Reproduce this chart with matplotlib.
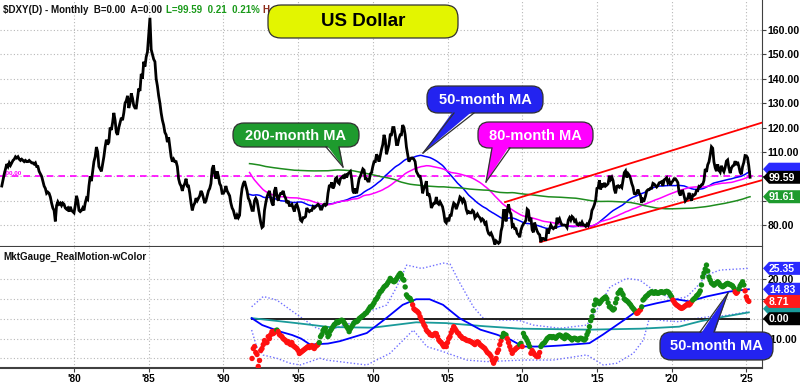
import numpy as np
import pandas as pd
import matplotlib
matplotlib.use("Agg")
import matplotlib.pyplot as plt
from matplotlib.patches import FancyBboxPatch, Polygon
from matplotlib.lines import Line2D
from matplotlib.transforms import Affine2D

plt.rcParams['font.family'] = ['Liberation Sans', 'DejaVu Sans']

# ---------------- DATA ----------------
# $DXY monthly closes, March 1975 .. April 2025
dxy_start = 1975 + 2 / 12
dxy_values = [
    96, 98.5, 101, 103, 105, 104, 105.5, 104.5, 105.5, 106.5,                       # 1975 (Mar-Dec)
    107, 108, 107.5, 108, 107, 106.5, 107, 106.5, 106, 106.5, 106, 106,           # 1976
    106.5, 106, 105.5, 105.5, 105, 105.5, 104, 104, 102, 101, 100, 98,            # 1977
    96, 95, 93, 93.5, 93, 91.5, 89, 87, 86, 81.5, 88, 89.5,                       # 1978
    88.5, 89, 88, 89, 88.5, 87, 86.5, 87, 85.5, 87.5, 86, 85.5,                   # 1979
    85, 88, 92, 90, 86, 85.5, 86, 87, 86, 89, 91, 90.5,                           # 1980
    96, 100, 98, 102, 106, 108, 112, 110, 104, 103, 102, 105,                     # 1981
    108, 112, 115, 113, 114, 120, 119, 122, 126, 123, 118, 117,                   # 1982
    120, 122, 124, 123, 126, 130, 131, 133, 128, 130, 134, 132,                   # 1983
    129, 128, 128, 132, 136, 135, 142, 140, 147, 145, 149, 151,                   # 1984
    158, 165, 152, 150, 148, 147, 140, 137, 133, 130, 126, 123,                   # 1985
    121, 118, 117, 114, 116, 112, 108, 106, 107, 106, 106, 104,                   # 1986
    99, 97, 96, 94, 96, 97, 99, 96, 96, 93, 89, 86,                               # 1987
    88, 89, 91, 90, 91, 92, 94, 93, 91, 89, 90, 92,                               # 1988
    94, 95, 97, 103, 104.5, 101, 99, 102, 100, 97, 96, 93,                        # 1989
    93, 94, 96, 94, 93, 92, 89, 87, 86, 84, 82.5, 84,                             # 1990
    83, 84, 91, 95, 97, 98, 96, 94, 91, 90, 88, 86,                               # 1991
    86, 90, 91, 90, 87, 84, 81, 79, 79.5, 86, 89, 91.5,                           # 1992
    93, 94, 91, 89, 88, 94, 95.5, 92, 90, 92, 93, 93,                             # 1993
    94, 92, 91, 89, 90, 88, 88, 88.5, 87, 85.5, 88, 88.5,                         # 1994
    87, 85, 82, 81.5, 83, 83, 83.5, 87, 86, 85.5, 86, 86,                         # 1995
    87.5, 87, 87.5, 88, 88.5, 88, 86.5, 86.5, 88, 88.5, 88, 88.5,                 # 1996
    93, 96, 96, 97.5, 95, 96, 99, 99.5, 97.5, 97, 99, 99.5,                       # 1997
    100, 99, 101, 99.5, 101, 101.5, 102, 99, 94, 93, 95, 93,                      # 1998
    96, 99, 100, 101.5, 103, 102.5, 99, 99, 98, 98, 101, 101.5,                   # 1999
    104, 106, 106, 109, 108, 106, 108.5, 111, 113, 117, 115, 109,                 # 2000
    111, 113, 117, 117, 120, 120, 117, 113, 113, 115.5, 117, 117,                 # 2001
    121, 120, 117, 112, 109, 106, 107, 107.5, 107.5, 107, 106, 102,               # 2002
    101, 100, 100, 97.5, 93, 95, 96, 98, 92, 93, 91, 87,                          # 2003
    88, 89, 89, 91.5, 89, 88.5, 89.5, 88.5, 87.5, 85, 81.5, 80.9,                 # 2004
    83, 81.5, 84, 84, 87, 89, 88.5, 86.5, 88, 89.5, 91.5, 91,                     # 2005
    89.5, 90.5, 89.5, 86.5, 85, 85.5, 85, 85, 86, 85.5, 83, 83.7,                 # 2006
    84.5, 83.5, 83, 81.8, 82.5, 82, 80.5, 81, 78, 76.5, 76, 76.7,                 # 2007
    75.5, 74, 72, 73.5, 73, 72.5, 73, 77.5, 79.5, 86, 86, 81.5,                   # 2008
    86, 88.5, 85.5, 84.5, 79.5, 80, 78.5, 78.5, 76.5, 76, 75, 78,                 # 2009
    79.5, 80.5, 81, 82, 86.5, 86, 81.5, 83, 78, 77, 81, 79,                       # 2010
    77.5, 76.5, 76, 73, 74.5, 74.5, 74, 74, 78.5, 76.5, 78.5, 80,                 # 2011
    79, 78.5, 79, 79, 83, 81.5, 82.5, 81, 80, 80, 80, 79.8,                       # 2012
    79, 82, 83, 82, 83.5, 83, 81.5, 82, 80.3, 80, 80.7, 80.2,                     # 2013
    81.2, 80, 80, 79.5, 80.4, 79.8, 81.5, 82.7, 86, 87, 88.4, 90.3,               # 2014
    95, 95.3, 98.4, 94.6, 97, 95.5, 97.3, 96, 96.4, 97, 100.2, 98.7,              # 2015
    99.6, 98.2, 94.6, 93, 95.9, 96.1, 95.5, 96, 95.4, 98.5, 101.5, 102.2,         # 2016
    99.5, 101.1, 100.4, 99.1, 97, 95.6, 92.9, 92.7, 93.1, 94.6, 93, 92.1,         # 2017
    89.1, 90.6, 90.2, 91.8, 94, 94.5, 94.5, 95.1, 95.1, 97.1, 96.8, 96.2,         # 2018
    95.6, 96.2, 97.3, 97.5, 97.8, 96.1, 98.5, 98.9, 99.4, 97.4, 98.3, 96.4,       # 2019
    97.4, 98.1, 99, 99, 98.3, 97.4, 93.3, 92.1, 93.9, 94, 91.9, 89.9,             # 2020
    90.6, 90.9, 93.2, 91.3, 90, 92.4, 92.2, 92.6, 94.2, 94.1, 95.9, 95.7,         # 2021
    96.5, 96.7, 98.3, 103, 101.8, 104.7, 105.9, 108.7, 112.1, 111.5, 105.9, 103.5,  # 2022
    102.1, 104.9, 102.5, 101.7, 104.3, 102.9, 101.9, 103.6, 106.2, 106.7, 103.5, 101.3,  # 2023
    103.3, 104.2, 104.5, 106.2, 104.6, 105.9, 104.1, 101.7, 100.8, 104, 105.7, 108.5,  # 2024
    108.4, 107.6, 104.2, 99.59,                                                   # 2025
]
ma_windows = [50, 80, 200]
ma_names = ["50-month MA", "80-month MA", "200-month MA"]

# regression channel end points (year, value)
chan_upper_t = [2008.85, 2026.05]
chan_upper_v = [89.4, 122.0]
chan_lower_t = [2011.2, 2026.05]
chan_lower_v = [73.0, 98.4]

price_flags = [("99.59", 99.59), ("91.61", 91.61)]

# RealMotion monthly dots Dec 1991 .. Mar 2025
rm_start = 1991 + 11 / 12
rm_values = [
    -20, -15, -14, -17, -18, -24, -21, -16, -15, -13, -11, -12,
    -12, -9, -10, -8, -6.5, -7.5, -7, -6, -5.7, -6.5, -8, -8.5,
    -9, -10, -10.5, -11, -12, -11.5, -12.5, -13, -12, -13.5, -14, -14.5,
    -15, -16, -17.5, -17, -16.5, -16, -15.5, -15, -14.5, -14, -14.5, -14,
    -13.5, -14.5, -15, -14, -13.5, -13, -12, -9, -8, -6, -5, -4.8,
    -7, -9, -8, -6, -5, -4, -3, -2.5, -1.5, -2, -1.5, -1,
    -0.7, -1, -2, -3, -4, -5, -6.5, -5, -4, -3, -2, -1.5,
    -1.5, -1, 0, 0.5, 1, 1.5, 2, 2.7, 3, 4, 5, 6,
    6, 7, 8, 9.4, 10, 11, 12.5, 13.6, 14, 15, 16, 16.5,
    17, 18, 19, 20.3, 19.5, 19, 18.6, 19, 20, 21, 22, 22.8,
    22, 20, 19.4, 16, 12, 11, 10.5, 10.2, 9, 7, 5, 4.4,
    4, 3.5, 2.7, 1, -0.5, -1.5, -3, -4, -5.7, -6.5, -7, -8,
    -8.2, -8.5, -8, -7.4, -7.5, -9, -10.7, -11.5, -12, -13, -14, -13,
    -14, -12, -10, -9, -7, -5.5, -4, -5, -6, -7, -7.4, -8.5,
    -9, -9.8, -10, -10.2, -10.7, -11, -11, -11.3, -11.6, -12, -12.5, -13,
    -12, -11.6, -12, -13, -13.5, -14, -14.5, -15, -16, -17, -17.4, -18,
    -19, -21, -22.4, -21, -20, -17, -15.7, -13, -11, -9, -7.4, -8,
    -8.2, -10, -12, -14, -15.7, -17.4, -16, -15.7, -15, -14.5, -14, -13,
    -12.4, -14, -7.4, -9, -9.8, -11, -12.4, -14, -17.4, -16, -17, -18,
    -18.5, -19.1, -19, -17, -14, -13, -12.4, -12, -11, -10, -9.5, -9,
    -9, -9.5, -9, -9.5, -9.8, -9, -8.5, -8.2, -8.5, -9, -9.5, -10,
    -8.2, -8.5, -9, -9.5, -10, -10.7, -10, -9.8, -10, -10.5, -10.7, -10,
    -9.8, -10, -10.5, -10.7, -10, -8, -6.5, -4, -1, 1, 4, 7,
    9.4, 9, 8, 7.7, 8.5, 9.4, 10, 10.5, 11, 10, 8, 6,
    6, 5, 4.4, 5, 8, 10, 12.8, 13.5, 14.4, 13, 12, 10,
    9.4, 9, 8.5, 7.7, 7, 6, 5.2, 4.5, 3.5, 2.7, 3, 4,
    4.5, 6, 9.4, 10, 11, 11.5, 12, 12.8, 13, 13.6, 13, 12.8,
    13.6, 13, 12.8, 13, 13.5, 13.6, 13.2, 13, 13.6, 13.8, 13.6, 13,
    12, 11, 9.4, 8.5, 7.5, 6.9, 6.5, 6, 5.5, 5.2, 5.5, 6,
    6.5, 6.9, 7.5, 6.9, 7.5, 8.5, 9.4, 10, 10.5, 11.5, 12, 12.8,
    14, 17, 21.1, 23, 25, 27, 24, 21, 19.4, 18, 17.5, 16.9,
    17.5, 18, 18.6, 18, 17, 16.5, 16.1, 16.5, 17, 17.5, 17.8, 17.5,
    17.2, 16.9, 16.5, 15.5, 13.5, 12.8, 13.5, 15, 16.5, 17.5, 18.6, 17,
    14, 11, 9.4, 8.71,
]

# 50-month MA of RealMotion
rm_ma_t = [1991.89, 1992.6, 1993.8, 1994.6, 1995.2, 1995.8, 1997.0, 1997.8, 1999.6, 2000.9,
           2002.0, 2002.9, 2003.8, 2004.7, 2005.8, 2007.2, 2008.3, 2009.2, 2010.05, 2011.4,
           2012.5, 2014.5, 2015.4, 2017.0, 2018.1, 2019.0, 2020.3, 2021.2, 2022.35, 2023.9, 2025.17]
rm_ma_v = [0.3, -3.2, -6.5, -8.2, -10, -13, -12.5, -11.3, -7.2, 0.3,
           7, 9.8, 9.8, 7, 0.3, -5.5, -8, -10.5, -14, -14,
           -13.5, -12.3, -8, 0.3, 6.2, 7.8, 9.8, 8.7, 11.2, 13.7, 14.83]

# long-term average (teal)
rm_teal_t = [1991.89, 1995.0, 1997.1, 2000.0, 2002.9, 2004.9, 2007.5, 2009.85, 2014.5, 2018.0,
             2020.5, 2021.9, 2023.5, 2025.17]
rm_teal_v = [0.3, -2.3, -4.2, -4.5, -1.8, -2.2, -3.8, -5, -5.5, -5, -4, -1.3, 1, 3.2]

# upper / lower bands (dotted)
ub_t = [1991.89, 1992.67, 1993.57, 1995.13, 1996.24, 1997.13, 1998.47, 2000.01, 2000.93, 2001.6,
        2002.27, 2003.27, 2004.72, 2005.17, 2005.84, 2006.73, 2007.4, 2008.51, 2009.4, 2009.85,
        2010.74, 2012.53, 2014.32, 2014.99, 2015.88, 2016.99, 2017.88, 2018.78, 2020.11, 2021.01,
        2021.68, 2022.35, 2023.24, 2025.17]
ub_v = [6, 11.2, 9.4, 1, -4.8, -5.7, -2.3, 4.4, 6.9, 16,
        27, 25.3, 28, 27.5, 17.8, 6, 0.2, -0.7, -0.7, -1,
        -3.2, -4.8, -3.2, 4.4, 16, 20.3, 19.4, 14.4, 9.7, 11,
        16, 22, 24.5, 25.35]
lb_t = [1991.89, 1992.22, 1992.67, 1993.57, 1994.46, 1995.13, 1996.46, 1996.9, 1999.59, 2001.15,
        2002.71, 2003.61, 2004.72, 2006.28, 2007.62, 2010.07, 2012.08, 2014.32, 2015.43, 2016.33,
        2017.44, 2018.11, 2018.5, 2019.5, 2020.5, 2021.5, 2022.5, 2023.5, 2025.17]
lb_v = [-5.7, -14, -18.3, -19.9, -22.4, -23.3, -19.9, -20.8, -23.3, -17.4,
        -5.7, -14, -16.6, -20.8, -21.6, -20.8, -20.8, -18.2, -23.3, -22.4,
        -17.4, -10.7, 0, -1, -1.5, 0, 1, 1.5, 3.5]

osc_flags = [("25.35", 25.35, "#2a2aff"), ("14.83", 14.83, "#2a2aff"),
             ("", 5.0, "#1a9a9a"), ("8.71", 8.71, "#ff1a1a"), ("0.00", 0.0, "#000000")]

xtick_years = [1980, 1985, 1990, 1995, 2000, 2005, 2010, 2015, 2020, 2025]
xtick_labels = ["'80", "'85", "'90", "'95", "'00", "'05", "'10", "'15", "'20", "'25"]

# ---------------- FIGURE ----------------
W, H = 800, 387
fig = plt.figure(figsize=(W / 100, H / 100), dpi=100)
PX = Affine2D().scale(1, -1).translate(0, H)   # pixel coords, y downwards

XMIN, XMAX = 1975.047, 2026.05
ax1 = fig.add_axes([0, 1 - 246 / H, 762 / W, 246 / H])
ax2 = fig.add_axes([0, 1 - 368 / H, 762 / W, (368 - 247) / H])

grid_kw = dict(color="#b8b8b8", linestyle=(0, (1, 2)), linewidth=0.8)
for ax in (ax1, ax2):
    ax.set_xlim(XMIN, XMAX)
    ax.set_xticks(xtick_years)
    ax.yaxis.tick_right()
    ax.grid(True, **grid_kw)
    ax.set_axisbelow(True)
    for s_ in ("left", "top"):
        ax.spines[s_].set_visible(False)
    ax.spines["right"].set_color("#404040")
    ax.spines["bottom"].set_color("#404040")
    ax.tick_params(axis="y", length=3, width=0.8, pad=1, colors="#404040",
                   labelcolor="black", labelsize=7.6)

# ---- price panel
t = dxy_start + np.arange(len(dxy_values)) / 12
s = pd.Series(dxy_values, index=t)
ax1.set_ylim(71.4, 172.3)
yt1 = np.arange(80, 161, 10)
ax1.set_yticks(yt1)
ax1.set_yticklabels(["" if v in (90, 100) else f"{v:.2f}" for v in yt1], fontweight="bold")
ax1.tick_params(axis="x", length=0, labelbottom=False)

ax1.axhline(100, color="#ff00ff", linestyle=(0, (4, 3)), linewidth=1.2, zorder=2)
ax1.text(1975.25, 100.7, "100.00", color="#ff00ff", fontsize=4.5, fontweight="bold")

mas = [s.rolling(w).mean() for w in ma_windows]
valid = mas[2].notna().values
start_idx = np.argmax(valid)
ma_colors = ["#0000ff", "#ff00ff", "#1e8c1e"]
for m, c in zip(mas, ma_colors):
    ax1.plot(t[start_idx:], m.values[start_idx:], color=c, linewidth=1.1, zorder=3)

ax1.plot(chan_upper_t, chan_upper_v, color="#ff0000", linewidth=1.3, zorder=3)
ax1.plot(chan_lower_t, chan_lower_v, color="#ff0000", linewidth=1.3, zorder=3)
ax1.plot(t, dxy_values, color="black", linewidth=2.0, zorder=4, solid_joinstyle="miter")

# ---- oscillator panel
rt = rm_start + np.arange(len(rm_values)) / 12
ax2.set_ylim(-24.8, 36.1)
ax2.set_yticks([-20, -10, 0, 10, 20])
ax2.set_yticklabels(["", "-10.00", "", "", "20.00"], fontweight="bold")
ax2.set_xticklabels(xtick_labels, fontweight="bold", fontsize=7.2)
ax2.tick_params(axis="x", length=3, colors="#404040", labelcolor="black", pad=1.5)
ax2.spines["bottom"].set_linewidth(1.5)

ax2.plot(ub_t, ub_v, color="#7070ff", linestyle=(0, (1, 1.5)), linewidth=1.0, zorder=2)
ax2.plot(lb_t, lb_v, color="#7070ff", linestyle=(0, (1, 1.5)), linewidth=1.0, zorder=2)
ax2.plot([rt[0], rt[-1]], [0, 0], color="#202020", linewidth=1.4, zorder=2)
ax2.plot(rm_teal_t, rm_teal_v, color="#1a9a9a", linewidth=1.3, zorder=3)
ax2.plot(rm_ma_t, rm_ma_v, color="#0000ff", linewidth=1.3, zorder=4)
ma_at = np.interp(rt, rm_ma_t, rm_ma_v)
cols = np.where(np.array(rm_values) >= ma_at, "#128c12", "#ff1010")
ax2.scatter(rt, rm_values, s=15, c=cols, linewidths=0, zorder=5)

# ---------------- TEXT / ANNOTATIONS ----------------
fig.text(3 / W, 1 - 13 / H, "$DXY(D) - Monthly  B=0.00  A=0.00", fontsize=7, fontweight="bold",
         color="#111111")
fig.text(166 / W, 1 - 13 / H, "L=99.59  0.21  0.21%", fontsize=7, fontweight="bold",
         color="#1a9a1a")
fig.text(262 / W, 1 - 13 / H, "H", fontsize=7, fontweight="bold", color="#8b2a1a")
fig.text(3 / W, 1 - 260 / H, "MktGauge_RealMotion-wColor", fontsize=7.1, fontweight="bold",
         color="#111111")


def callout(x0, y0, x1, y1, text, fc, tc, fs, tail=None, r=11, z=10):
    box = FancyBboxPatch((x0, y0), x1 - x0, y1 - y0,
                         boxstyle=f"round,pad=0,rounding_size={r}",
                         transform=PX, facecolor=fc, edgecolor="#303030",
                         linewidth=0.9, zorder=z)
    fig.patches.append(box)
    if tail is not None:
        (bx0, by), (bx1, _), (tx, ty) = tail
        d = 3 * np.sign(ty - by)
        tri = Polygon([(bx0, by - d), (bx1, by - d), (tx, ty)],
                      closed=True, transform=PX, facecolor=fc, edgecolor="none", zorder=z + 0.1)
        fig.patches.append(tri)
        for bx in (bx0, bx1):
            fig.lines.append(Line2D([bx, tx], [by, ty], transform=PX, color="#303030",
                                    linewidth=0.9, zorder=z + 0.2))
    fig.text((x0 + x1) / 2 / W, 1 - ((y0 + y1) / 2 + 0.5) / H, text, ha="center", va="center",
             fontsize=fs, fontweight="bold", color=tc, zorder=z + 0.3)


callout(268, 5, 458, 38, "US Dollar", "#e3f500", "black", 13.5, r=13)
callout(233, 123, 359, 147, "200-month MA", "#1e9b2e", "white", 10.5,
        tail=((326, 147), (339, 147), (343, 167)))
callout(427, 86, 543, 113, "50-month MA", "#2323f0", "white", 10.5,
        tail=((454, 113), (474, 113), (423, 153)))
callout(478, 122, 593, 148, "80-month MA", "#ff00ff", "white", 10.5,
        tail=((492, 148), (510, 148), (486, 182)))
callout(660, 332, 773, 360, "50-month MA", "#2323f0", "white", 10.5,
        tail=((700, 332), (714, 332), (728, 293)))


def flag(ax, value, text, fc, tc="white", z=12):
    yd = ax.transData.transform((0, value))[1]
    yp = H - yd
    pts = [(763, yp), (769, yp - 6.5), (800, yp - 6.5), (800, yp + 6.5), (769, yp + 6.5)]
    fig.patches.append(Polygon(pts, closed=True, transform=PX, facecolor=fc,
                               edgecolor="none", zorder=z))
    if text:
        fig.text(769 / W, 1 - (yp + 0.5) / H, text, ha="left", va="center", fontsize=7.6,
                 fontweight="bold", color=tc, zorder=z + 0.1)


flag(ax1, mas[0].values[-1] + 1.0, "", "#2a2aff", z=11)
flag(ax1, price_flags[0][1], price_flags[0][0], "#000000", z=12)
flag(ax1, price_flags[1][1], price_flags[1][0], "#1e9b2e", z=12)
zs = [12, 12, 11, 12, 13]
for (txt, v, c), z in zip(osc_flags, zs):
    flag(ax2, v, txt, c, z=z)

fig.savefig("out.png", dpi=100)
